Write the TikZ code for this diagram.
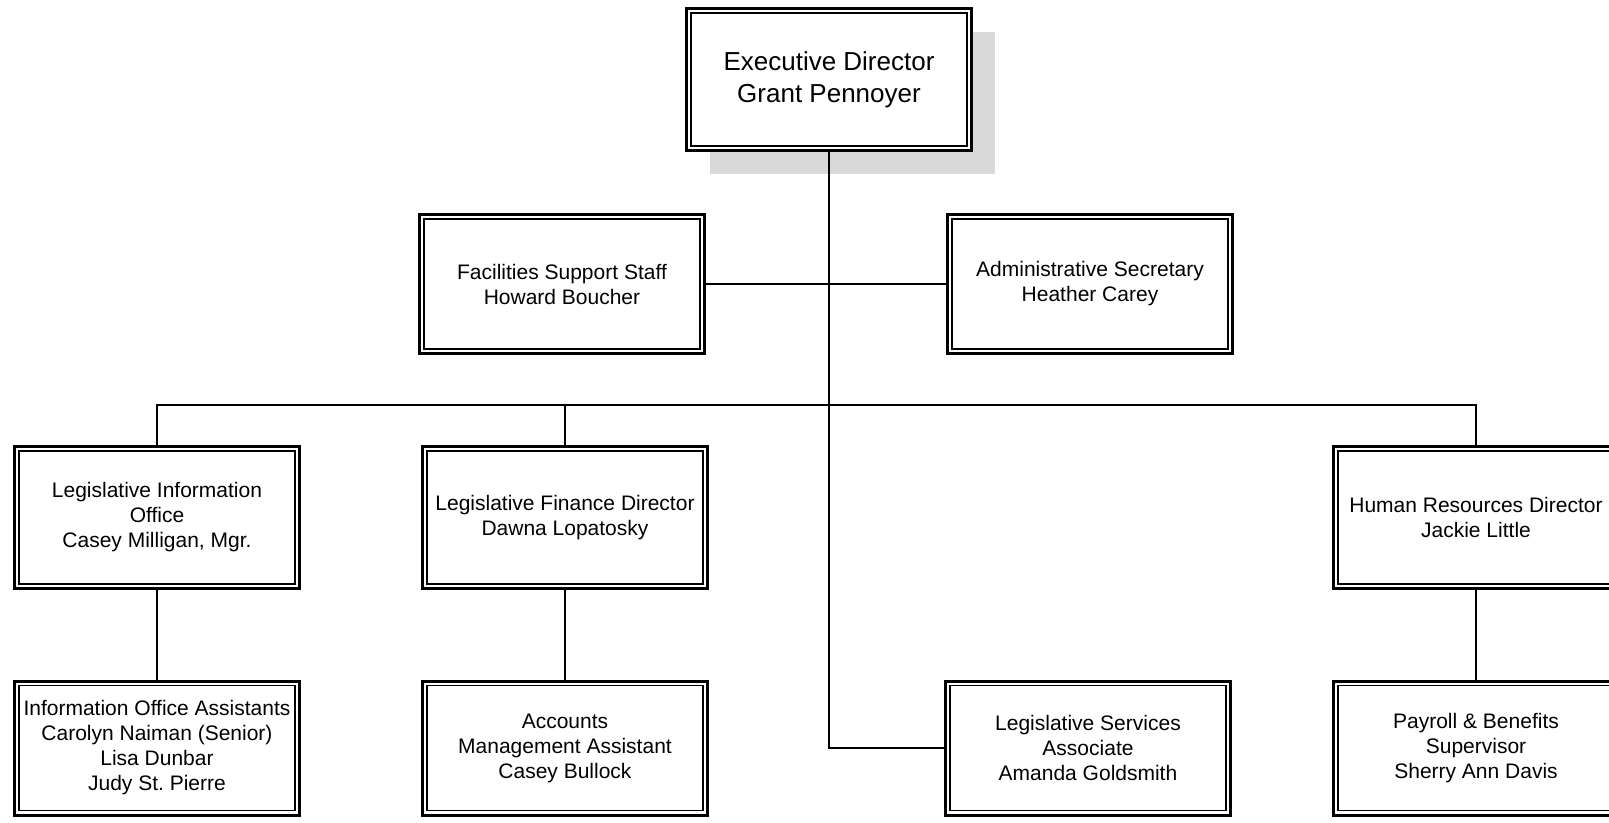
\documentclass[tikz,border=0pt]{standalone}
\usepackage{fontspec}
\setmainfont{Liberation Sans}
\usetikzlibrary{shadows}
\begin{document}
\frenchspacing
\begin{tikzpicture}[x=1pt, y=-1pt,
  staff/.style={draw, line width=3pt, fill=white, align=center, inner sep=0pt,
    minimum width=285pt, font=\fontsize{21}{25}\selectfont,
    path picture={\draw[line width=1.6pt]
      ([shift={(4.5pt,4.5pt)}]path picture bounding box.south west) rectangle
      ([shift={(-4.5pt,-4.5pt)}]path picture bounding box.north east);}},
  link/.style={line width=2.2pt}]
  \useasboundingbox (0,0) rectangle (1609,822);

  \pgfmathsetmacro{\ya}{284}
  \pgfmathsetmacro{\yb}{517.5}
  \pgfmathsetmacro{\yc}{748}

  % Draw the executive box with its shadow
  \node[staff, minimum height=142pt, font=\fontsize{26}{32}\selectfont,
    drop shadow={shadow xshift=23pt, shadow yshift=-23pt, fill=black!15, opacity=1}]
    (exec) at (829,79.5) {Executive Director\\Grant Pennoyer};

  % Staff reporting directly
  \node[staff, minimum height=139pt] (fac) at (562,\ya) {Facilities Support Staff\\Howard Boucher};
  \node[staff, minimum height=139pt] (adm) at (1090,\ya) {Administrative Secretary\\Heather Carey};

  % Directors
  \node[staff, minimum height=142pt] (lio) at (157,\yb) {Legislative Information\\Office\\Casey Milligan, Mgr.};
  \node[staff, minimum height=142pt] (lfd) at (565,\yb) {Legislative Finance Director\\Dawna Lopatosky};
  \node[staff, minimum height=142pt] (hrd) at (1476,\yb) {Human Resources Director\\Jackie Little};

  % Bottom row
  \node[staff, minimum height=134pt] (ioa) at (157,\yc) {Information Office Assistants\\Carolyn Naiman (Senior)\\Lisa Dunbar\\Judy St. Pierre};
  \node[staff, minimum height=134pt] (acc) at (565,\yc) {Accounts\\Management Assistant\\Casey Bullock};
  \node[staff, minimum height=134pt] (lsa) at (1088,\yc) {Legislative Services\\Associate\\Amanda Goldsmith};
  \node[staff, minimum height=134pt] (pay) at (1476,\yc) {Payroll \& Benefits\\Supervisor\\Sherry Ann Davis};

  % Connectors
  \coordinate (bus) at (829,405);
  \draw[link] (exec.south) |- (lsa.west);
  \draw[link] (fac.east) -- (adm.west);
  \draw[link] (lio.north) |- (bus) -| (hrd.north);
  \draw[link] (lfd.north) -- (lfd.north |- bus);
  \draw[link] (lio.south) -- (ioa.north);
  \draw[link] (lfd.south) -- (acc.north);
  \draw[link] (hrd.south) -- (pay.north);

\end{tikzpicture}
\end{document}
